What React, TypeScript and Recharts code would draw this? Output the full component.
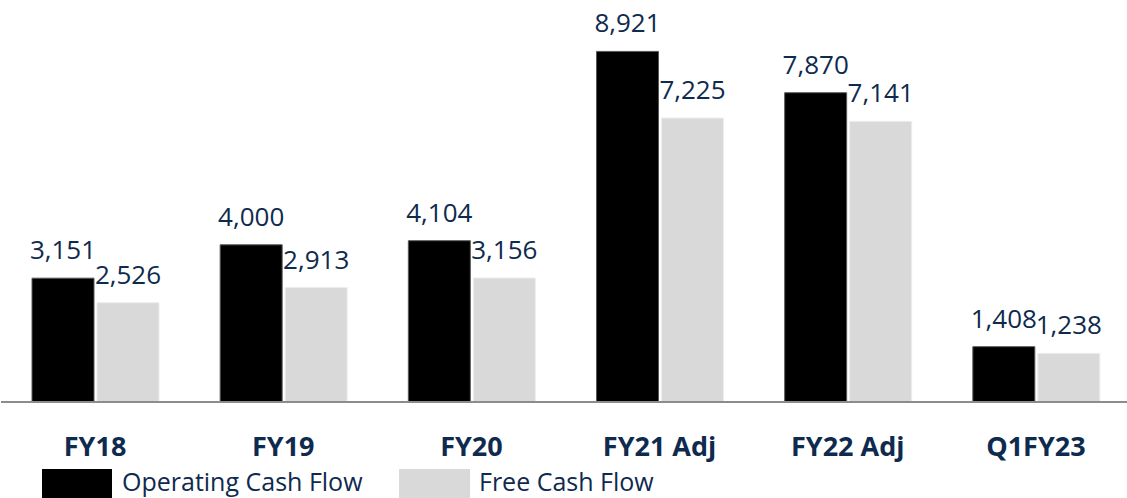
import { BarChart, Bar, XAxis, YAxis, LabelList } from 'recharts'

const periods = ['FY18', 'FY19', 'FY20', 'FY21 Adj', 'FY22 Adj', 'Q1FY23']
const operatingCashFlow = [3151, 4000, 4104, 8921, 7870, 1408]
const freeCashFlow = [2526, 2913, 3156, 7225, 7141, 1238]

const NAVY = '#0E2A4E'
const FONT = '"Open Sans", sans-serif'

const data = periods.map((period, i) => ({
  period,
  ocf: operatingCashFlow[i],
  fcf: freeCashFlow[i],
}))

const fmt = (v: any) => Number(v).toLocaleString('en-US')

const App = () => {
  return (
    <div style={{ position: 'absolute', left: 0, top: 0, width: 1127, height: 498, overflow: 'hidden', fontFamily: FONT }}>
      <BarChart
        width={1130}
        height={498}
        data={data}
        margin={{ top: 9, right: 0, bottom: 0, left: 1 }}
        barSize={62}
        barGap={3}
      >
        <XAxis
          dataKey="period"
          height={96}
          tickLine={false}
          tickSize={0}
          tickMargin={35}
          axisLine={{ stroke: '#8C8C8C', strokeWidth: 2 }}
          tick={{ fill: NAVY, fontSize: 27, fontWeight: 700, fontFamily: FONT }}
          interval={0}
        />
        <YAxis hide domain={[0, 10000]} />
        <Bar dataKey="ocf" fill="#000000" stroke="#595959" strokeWidth={1} isAnimationActive={false}>
          <LabelList dataKey="ocf" position="top" offset={19} formatter={fmt} fill={NAVY} fontSize={26} fontFamily={FONT} />
        </Bar>
        <Bar dataKey="fcf" fill="#D9D9D9" stroke="#EDEDED" strokeWidth={1} isAnimationActive={false}>
          <LabelList dataKey="fcf" position="top" offset={19} formatter={fmt} fill={NAVY} fontSize={26} fontFamily={FONT} />
        </Bar>
      </BarChart>

      {/* legend drawn under the chart like the original */}
      <svg width={1127} height={40} style={{ position: 'absolute', left: 0, top: 458 }}>
        <rect x={42} y={11} width={70} height={40} fill="#000000" />
        <text x={122} y={33} fill={NAVY} fontSize={25} fontFamily={FONT}>Operating Cash Flow</text>
        <rect x={399} y={11} width={71} height={40} fill="#D9D9D9" />
        <text x={479} y={33} fill={NAVY} fontSize={25} fontFamily={FONT}>Free Cash Flow</text>
      </svg>
    </div>
  )
}

export default App
